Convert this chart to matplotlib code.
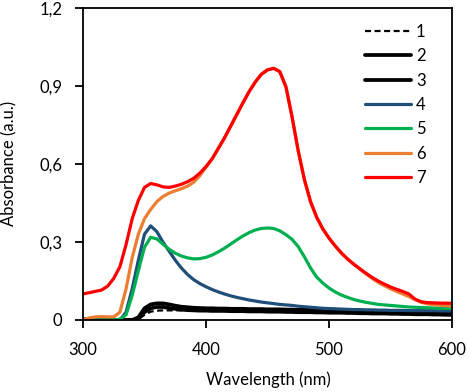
import matplotlib
matplotlib.use("Agg")
import matplotlib.pyplot as plt
from matplotlib.lines import Line2D

wavelength = list(range(300, 605, 5))

s1 = [0, 0, 0, 0, 0, 0, 0, 0, 0, 0.003, 0.020, 0.032, 0.036, 0.037, 0.037, 0.037,
      0.037, 0.037, 0.036, 0.036, 0.036, 0.036, 0.036, 0.036, 0.035, 0.035, 0.035,
      0.035, 0.034, 0.034, 0.034, 0.034, 0.033, 0.033, 0.033, 0.032, 0.032, 0.032,
      0.031, 0.031, 0.031, 0.031, 0.030, 0.030, 0.030, 0.029, 0.029, 0.029, 0.028,
      0.028, 0.028, 0.028, 0.027, 0.027, 0.027, 0.026, 0.026, 0.026, 0.025, 0.025, 0.025]
s2 = [0, 0, 0, 0, 0, 0, 0, 0, 0, 0.010, 0.045, 0.060, 0.064, 0.064, 0.060, 0.055,
      0.051, 0.049, 0.047, 0.046, 0.045, 0.045, 0.044, 0.044, 0.043, 0.043, 0.043,
      0.042, 0.042, 0.042, 0.041, 0.041, 0.041, 0.040, 0.040, 0.039, 0.039, 0.039,
      0.038, 0.038, 0.037, 0.037, 0.037, 0.036, 0.036, 0.035, 0.035, 0.034, 0.034,
      0.034, 0.033, 0.033, 0.032, 0.032, 0.031, 0.031, 0.031, 0.030, 0.030, 0.029, 0.029]
s3 = [0, 0, 0, 0, 0, 0, 0, 0, 0, 0.005, 0.030, 0.045, 0.050, 0.050, 0.046, 0.043,
      0.040, 0.038, 0.037, 0.036, 0.036, 0.035, 0.035, 0.035, 0.034, 0.034, 0.034,
      0.033, 0.033, 0.033, 0.032, 0.032, 0.032, 0.031, 0.031, 0.030, 0.030, 0.030,
      0.029, 0.029, 0.028, 0.028, 0.028, 0.027, 0.027, 0.026, 0.026, 0.025, 0.025,
      0.025, 0.024, 0.024, 0.023, 0.023, 0.022, 0.022, 0.022, 0.021, 0.021, 0.020, 0.020]
s4 = [0.005, 0.003, 0, 0, 0, 0, 0, 0.030, 0.120, 0.230, 0.330, 0.362, 0.340, 0.300,
      0.265, 0.230, 0.200, 0.175, 0.155, 0.140, 0.128, 0.117, 0.108, 0.100, 0.093,
      0.087, 0.082, 0.077, 0.073, 0.069, 0.066, 0.063, 0.060, 0.058, 0.056, 0.053,
      0.051, 0.049, 0.047, 0.045, 0.044, 0.043, 0.042, 0.041, 0.040, 0.040, 0.039,
      0.039, 0.038, 0.038, 0.037, 0.037, 0.037, 0.036, 0.036, 0.036, 0.036, 0.036,
      0.035, 0.035, 0.035]
s5 = [0, 0, 0, 0, 0, 0, 0.003, 0.020, 0.095, 0.190, 0.280, 0.318, 0.312, 0.292,
      0.272, 0.257, 0.246, 0.239, 0.235, 0.236, 0.241, 0.250, 0.262, 0.276, 0.292,
      0.308, 0.323, 0.336, 0.346, 0.352, 0.354, 0.352, 0.343, 0.328, 0.310, 0.282,
      0.243, 0.200, 0.165, 0.142, 0.123, 0.108, 0.096, 0.087, 0.079, 0.073, 0.068,
      0.064, 0.060, 0.058, 0.056, 0.054, 0.052, 0.050, 0.049, 0.048, 0.047, 0.046,
      0.045, 0.045, 0.044]
s6 = [0.000, 0.008, 0.012, 0.013, 0.012, 0.012, 0.030, 0.120, 0.240, 0.330, 0.390,
      0.425, 0.455, 0.475, 0.488, 0.497, 0.505, 0.515, 0.530, 0.555, 0.588, 0.620,
      0.660, 0.700, 0.745, 0.790, 0.835, 0.878, 0.915, 0.945, 0.962, 0.968, 0.955,
      0.897, 0.780, 0.650, 0.540, 0.455, 0.395, 0.350, 0.315, 0.285, 0.258, 0.235,
      0.215, 0.197, 0.178, 0.160, 0.145, 0.132, 0.120, 0.110, 0.100, 0.090, 0.078,
      0.068, 0.062, 0.059, 0.057, 0.055, 0.054]
s7 = [0.100, 0.105, 0.110, 0.115, 0.130, 0.160, 0.205, 0.290, 0.390, 0.460, 0.510,
      0.525, 0.520, 0.512, 0.510, 0.515, 0.522, 0.532, 0.545, 0.565, 0.590, 0.620,
      0.660, 0.700, 0.745, 0.790, 0.835, 0.878, 0.915, 0.945, 0.962, 0.968, 0.955,
      0.897, 0.780, 0.650, 0.540, 0.455, 0.395, 0.350, 0.315, 0.285, 0.258, 0.235,
      0.215, 0.197, 0.180, 0.164, 0.150, 0.138, 0.127, 0.118, 0.110, 0.100, 0.080,
      0.070, 0.067, 0.066, 0.065, 0.065, 0.064]

labels = ["1", "2", "3", "4", "5", "6", "7"]
xticks = [300, 400, 500, 600]
yticks = [0, 0.3, 0.6, 0.9, 1.2]
yticklabels = ["0", "0,3", "0,6", "0,9", "1,2"]

plt.rcParams['font.family'] = ['Lato', 'DejaVu Sans']
FS = 12

fig = plt.figure(figsize=(4.67, 3.92), dpi=100)
ax = fig.add_axes([83/467, 1-320/392, (452-83)/467, (320-8)/392])

series = [s1, s2, s3, s4, s5, s6, s7]
colors = ["black", "black", "black", "#1F4E79", "#00B050", "#ED7D31", "#FF0000"]
styles = [dict(lw=1.6, dashes=(2.7, 1.6)), dict(lw=2.7), dict(lw=2.7),
          dict(lw=2.3), dict(lw=2.3), dict(lw=2.3), dict(lw=2.3)]

handles = []
for s, c, st, lab in zip(series, colors, styles, labels):
    ax.plot(wavelength, s, color=c, solid_capstyle='round', solid_joinstyle='round', **st)
    handles.append(Line2D([], [], color=c, solid_capstyle='round', **st))

ax.set_xlim(300, 600)
ax.set_ylim(0, 1.2)
ax.set_xticks(xticks)
ax.set_yticks(yticks)
ax.set_yticklabels(yticklabels)
ax.tick_params(axis='both', direction='out', length=6, width=1.3, labelsize=FS,
               colors='black')
ax.tick_params(axis='y', pad=9)
ax.tick_params(axis='x', pad=10)
for sp in ax.spines.values():
    sp.set_linewidth(1.3)

fig.text(268/467, 1-380/392, "Wavelength (nm)", ha='center', va='center', fontsize=FS)
fig.text(9/467, 1-163/392, "Absorbance (a.u.)", ha='center', va='center',
         rotation=90, fontsize=FS)

leg = ax.legend(handles, labels, loc='upper left', bbox_to_anchor=(365/467, 1-24/392),
                bbox_transform=fig.transFigure, frameon=False, fontsize=FS,
                handlelength=2.75, handletextpad=0.3, labelspacing=0.5,
                borderaxespad=0, borderpad=0)

fig.savefig("out.png", dpi=100)
